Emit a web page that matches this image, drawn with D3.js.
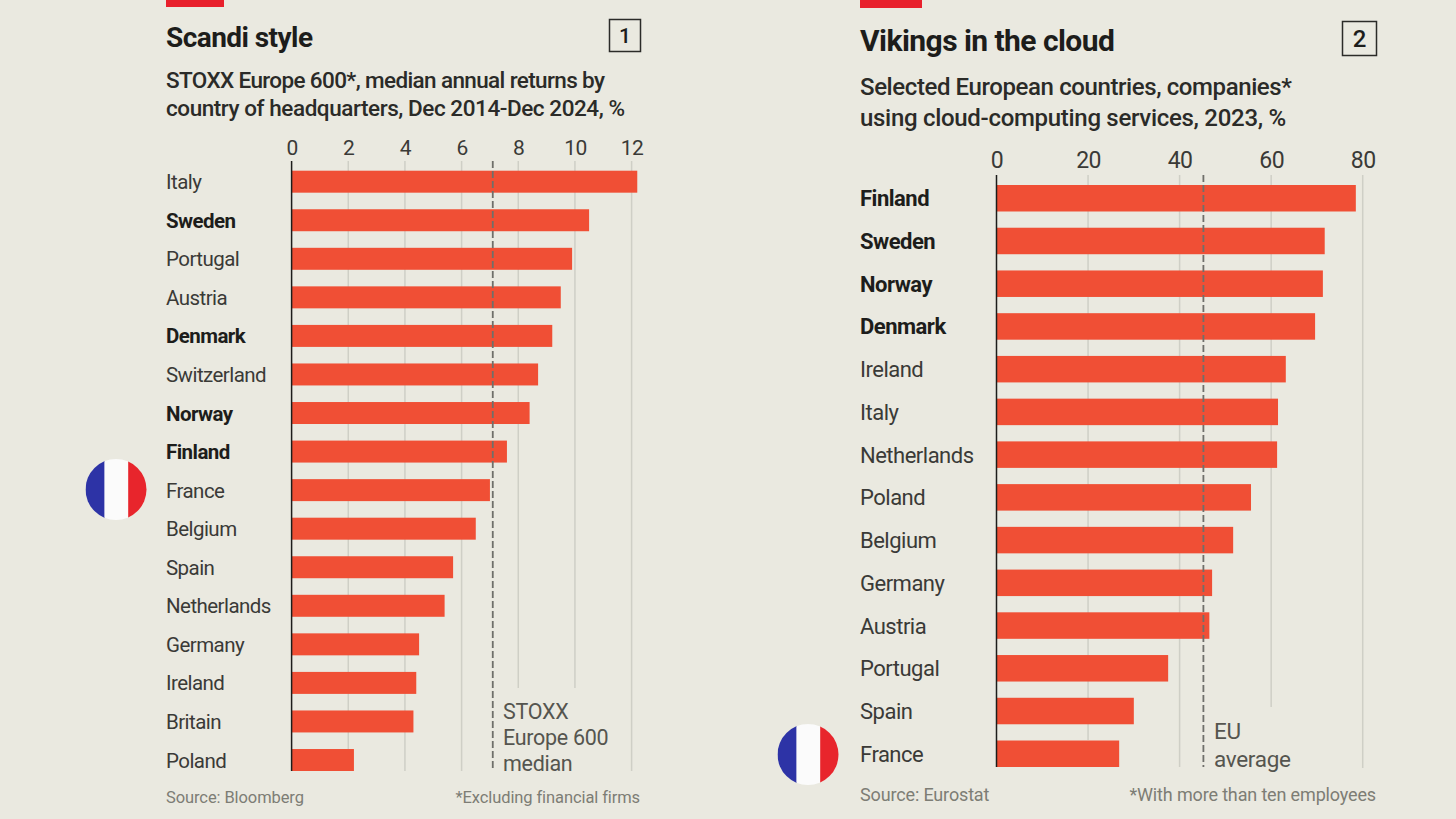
<!DOCTYPE html>
<html>
<head>
<meta charset="utf-8">
<script src="https://cdn.jsdelivr.net/npm/d3@7"></script>
<style>
  html, body { margin: 0; padding: 0; background: #eae9e0; }
  svg { display: block; }
  text { font-family: Roboto, "Liberation Sans", sans-serif; }
</style>
</head>
<body>
<svg id="chart" width="1456" height="819"></svg>
<script>
// values
var returnCountries = ['Italy', 'Sweden', 'Portugal', 'Austria', 'Denmark', 'Switzerland', 'Norway', 'Finland',
    'France', 'Belgium', 'Spain', 'Netherlands', 'Germany', 'Ireland', 'Britain', 'Poland'];
var returnValues = [12.2, 10.5, 9.9, 9.5, 9.2, 8.7, 8.4, 7.6, 7.0, 6.5, 5.7, 5.4, 4.5, 4.4, 4.3, 2.2];
var returnTicks = [0, 2, 4, 6, 8, 10, 12];
var returnMedian = 7.1;

var cloudCountries = ['Finland', 'Sweden', 'Norway', 'Denmark', 'Ireland', 'Italy', 'Netherlands', 'Poland',
    'Belgium', 'Germany', 'Austria', 'Portugal', 'Spain', 'France'];
var cloudValues = [78.5, 71.7, 71.3, 69.6, 63.2, 61.5, 61.3, 55.6, 51.7, 47.1, 46.5, 37.5, 30.0, 26.8];
var cloudTicks = [0, 20, 40, 60, 80];
var cloudAverage = 45.2;

var nordics = ['Sweden', 'Denmark', 'Norway', 'Finland'];

var svg = d3.select('#chart');
var defs = svg.append('defs');

function drawPanel(spec) {
    var g = svg.append('g');

    var xScale = d3.scaleLinear().domain([0, spec.ticks[spec.ticks.length - 1]]).range([spec.x0, spec.x1]);
    var yScale = d3.scaleBand().domain(spec.countries).range([spec.barTop, spec.barBottom]).paddingInner(spec.padding).paddingOuter(0);

    // red tab, title, number box
    g.append('rect').attr('x', spec.left).attr('y', 0).attr('width', spec.tabWidth).attr('height', spec.tabHeight).attr('fill', '#e8202c');
    g.append('text').attr('x', spec.left).attr('y', spec.titleY).text(spec.title)
        .attr('font-size', spec.titleSize).attr('font-weight', 700).attr('fill', '#1d1d1b').attr('letter-spacing', spec.titleSpacing);
    g.append('rect').attr('x', spec.box[0] + 0.5).attr('y', spec.box[1] + 0.5).attr('width', spec.box[2]).attr('height', spec.box[3])
        .attr('fill', 'none').attr('stroke', '#2b2b28').attr('stroke-width', 1.5);
    g.append('text').attr('x', spec.box[0] + spec.box[2] / 2 + 0.5).attr('y', spec.box[1] + spec.box[3] / 2 + spec.boxSize * 0.36)
        .attr('text-anchor', 'middle').attr('font-size', spec.boxSize).attr('font-weight', 500).attr('fill', '#1d1d1b').text(spec.number);

    spec.subtitle.forEach(function (line, i) {
        g.append('text').attr('x', spec.left).attr('y', spec.subY[i]).text(line)
            .attr('font-size', spec.subSize).attr('font-weight', 500).attr('fill', '#2b2b28').attr('letter-spacing', spec.subSpacing[i]);
    });

    // gridlines stop short of the annotation
    g.selectAll('.grid').data(spec.ticks.slice(1)).enter().append('line')
        .attr('class', 'grid')
        .attr('x1', xScale).attr('x2', xScale)
        .attr('y1', spec.axisTop)
        .attr('y2', function (d, i) { return spec.gridEnds[i]; })
        .attr('stroke', '#cfcfc6').attr('stroke-width', 1.5);

    // top axis, tick labels only
    var xAxis = d3.axisTop(xScale).tickValues(spec.ticks).tickSize(0).tickPadding(0);
    var xG = g.append('g').attr('transform', 'translate(0,' + spec.tickY + ')').call(xAxis);
    xG.select('.domain').remove();
    xG.selectAll('text').attr('font-size', spec.tickSize).attr('fill', '#3a3a37').attr('dy', 0)
        .style('font-family', 'Roboto').attr('letter-spacing', spec.tickSpacing);

    // bars
    g.selectAll('.bar').data(spec.countries).enter().append('rect')
        .attr('class', 'bar')
        .attr('x', spec.x0)
        .attr('y', function (d) { return yScale(d); })
        .attr('height', yScale.bandwidth())
        .attr('width', function (d, i) { return xScale(spec.values[i]) - spec.x0; })
        .attr('fill', '#f04f35');

    // reference line
    g.append('line')
        .attr('x1', xScale(spec.reference)).attr('x2', xScale(spec.reference))
        .attr('y1', spec.axisTop).attr('y2', spec.axisBottom)
        .attr('stroke', '#6f6f6a').attr('stroke-width', 1.8).attr('stroke-dasharray', '7 3');

    // zero line
    g.append('line')
        .attr('x1', spec.x0).attr('x2', spec.x0)
        .attr('y1', spec.axisTop).attr('y2', spec.axisBottom)
        .attr('stroke', '#1d1d1b').attr('stroke-width', 1.5);

    // country labels
    var yAxis = d3.axisLeft(yScale).tickSize(0).tickPadding(0);
    var yG = g.append('g').attr('transform', 'translate(' + spec.left + ',1)').call(yAxis);
    yG.select('.domain').remove();
    yG.selectAll('text')
        .attr('text-anchor', 'start')
        .attr('x', 0)
        .attr('font-size', spec.labelSize)
        .attr('letter-spacing', spec.labelSpacing)
        .attr('font-weight', function (d) { return nordics.indexOf(d) >= 0 ? 700 : 400; })
        .attr('fill', function (d) { return nordics.indexOf(d) >= 0 ? '#1d1d1b' : '#3a3a37'; })
        .style('font-family', 'Roboto');

    // annotation
    spec.note.forEach(function (line, i) {
        g.append('text').attr('x', spec.noteX).attr('y', spec.noteY[i]).text(line)
            .attr('font-size', spec.noteSize).attr('fill', '#55554f').attr('letter-spacing', -0.3);
    });

    // footer
    g.append('text').attr('x', spec.left).attr('y', spec.footY).text(spec.source)
        .attr('font-size', spec.footSize).attr('fill', '#7d7d75').attr('letter-spacing', spec.footSpacing);
    g.append('text').attr('x', spec.right).attr('y', spec.footY).text(spec.footnote).attr('text-anchor', 'end')
        .attr('font-size', spec.footSize).attr('fill', '#7d7d75').attr('letter-spacing', spec.footSpacing);

    // French flag next to the France row, white band a bit wider as in the picture
    var fx = spec.flagX, fy = yScale('France') + yScale.bandwidth() / 2 + spec.flagDy, r = spec.flagR;
    defs.append('clipPath').attr('id', 'flag' + spec.number).append('circle').attr('cx', fx).attr('cy', fy).attr('r', r);
    var flag = g.append('g').attr('clip-path', 'url(#flag' + spec.number + ')');
    var colours = ['#2d33a6', '#fbfbfb', '#e8252c'];
    var shares = [0.31, 0.39, 0.30];
    var offset = 0;
    colours.forEach(function (c, i) {
        flag.append('rect').attr('x', fx - r + offset * 2 * r).attr('y', fy - r).attr('width', shares[i] * 2 * r + 0.5).attr('height', 2 * r).attr('fill', c);
        offset += shares[i];
    });
}

drawPanel({
    number: 1, title: 'Scandi style',
    subtitle: ['STOXX Europe 600*, median annual returns by', 'country of headquarters, Dec 2014-Dec 2024, %'],
    countries: returnCountries, values: returnValues, ticks: returnTicks, reference: returnMedian,
    note: ['STOXX', 'Europe 600', 'median'],
    source: 'Source: Bloomberg', footnote: '*Excluding financial firms',
    left: 166, right: 640, x0: 291.6, x1: 631.6,
    axisTop: 161, axisBottom: 771, barTop: 170.7, barBottom: 771, padding: 0.43,
    gridEnds: [749, 771, 771, 688, 688, 771],
    tabWidth: 58, tabHeight: 7,
    titleY: 47, titleSize: 28, titleSpacing: -0.55,
    box: [609, 19, 31, 32], boxSize: 21,
    subY: [88, 116], subSize: 22.5, subSpacing: [-0.63, -0.44],
    tickY: 155, tickSize: 21, tickSpacing: -0.5, labelSize: 20.5, labelSpacing: -0.55,
    noteX: 503, noteY: [719, 745, 771], noteSize: 21.5,
    footY: 803, footSize: 16.5, footSpacing: -0.1,
    flagX: 116, flagDy: -0.6, flagR: 30.5
});

drawPanel({
    number: 2, title: 'Vikings in the cloud',
    subtitle: ['Selected European countries, companies*', 'using cloud-computing services, 2023, %'],
    countries: cloudCountries, values: cloudValues, ticks: cloudTicks, reference: cloudAverage,
    note: ['EU', 'average'],
    source: 'Source: Eurostat', footnote: '*With more than ten employees',
    left: 860, right: 1376, x0: 996.5, x1: 1362.7,
    axisTop: 175, axisBottom: 767, barTop: 185, barBottom: 767, padding: 0.38,
    gridEnds: [740, 767, 707, 768],
    tabWidth: 62, tabHeight: 8,
    titleY: 51, titleSize: 30, titleSpacing: -0.55,
    box: [1342, 21, 34, 34], boxSize: 24,
    subY: [95, 126], subSize: 24, subSpacing: [-0.4, -0.3],
    tickY: 168, tickSize: 23, tickSpacing: -0.5, labelSize: 22, labelSpacing: -0.5,
    noteX: 1214, noteY: [739, 767], noteSize: 22.5,
    footY: 801, footSize: 18, footSpacing: -0.15,
    flagX: 808, flagDy: 0.8, flagR: 30.5
});
</script>
</body>
</html>
